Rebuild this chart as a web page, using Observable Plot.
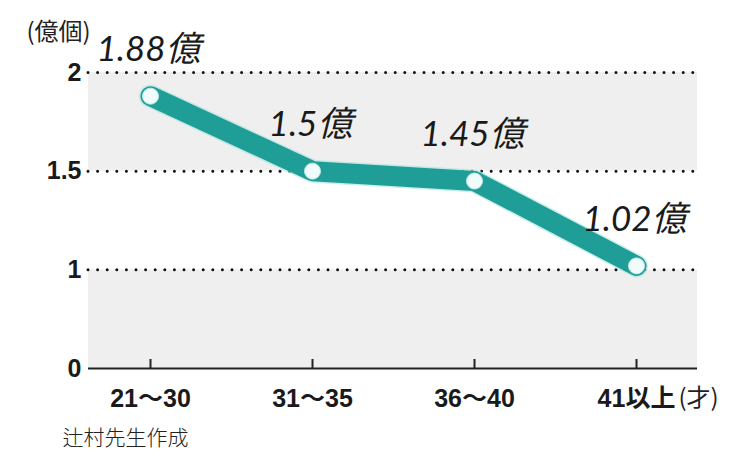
<!DOCTYPE html>
<html>
<head>
<meta charset="utf-8">
<script src="https://cdn.jsdelivr.net/npm/d3@7"></script>
<script src="https://cdn.jsdelivr.net/npm/@observablehq/plot@0.6"></script>
<style>
  html, body { margin: 0; padding: 0; background: #fff; }
</style>
</head>
<body>
<div id="chart"></div>
<script>
const ageGroups = ["21〜30", "31〜35", "36〜40", "41以上"];
const eggCounts = [1.88, 1.5, 1.45, 1.02];
const valueLabels = ["1.88億", "1.5億", "1.45億", "1.02億"];
const yTicks = [0, 1, 1.5, 2];
const yTickLabels = ["0", "1", "1.5", "2"];
const bandLows = [1.5, 0];
const bandHighs = [2, 1];
const yUnit = "(億個)";
const xUnit = "(才)";
const caption = "辻村先生作成";

const data = ageGroups.map((g, i) => ({age: g, value: eggCounts[i], label: valueLabels[i]}));
const bands = bandLows.map((lo, i) => ({lo, hi: bandHighs[i]}));

const boldFont = "'Liberation Sans', Arial, 'Noto Sans CJK JP', sans-serif";
const cjkFont = "'Noto Sans CJK JP', sans-serif";
const teal = "#1f9e98";

// broken axis: 0–1 compressed, 1–2 stretched twice as much
const brokenAxis = (v) => (v <= 1 ? v : 1 + (v - 1) * 2);

const chart = Plot.plot({
  width: 750,
  height: 460,
  marginLeft: 88,
  marginRight: 53,
  marginTop: 72,
  marginBottom: 92,
  style: {background: "#fff", overflow: "visible"},
  x: {type: "point", domain: ageGroups, padding: 0.37, label: null},
  y: {transform: brokenAxis, domain: [0, 3], label: null},
  marks: [
    Plot.rect(bands, {y1: "lo", y2: "hi", fill: "#efefef"}),
    Plot.ruleY(yTicks.filter(d => d > 0), {
      stroke: "#111", strokeWidth: 3, strokeDasharray: "0,9.6", strokeLinecap: "round"
    }),
    Plot.ruleY([0], {stroke: "#222", strokeWidth: 2}),
    Plot.axisY(yTicks, {
      tickFormat: (d) => yTickLabels[yTicks.indexOf(d)],
      tickSize: 0, tickPadding: 7, fontSize: 25, fontWeight: "bold",
      fontFamily: boldFont, fill: "#1a1a1a", label: null
    }),
    Plot.axisX({
      tickSize: -9, tickPadding: 30, fontSize: 25, fontWeight: "bold",
      fontFamily: boldFont, fill: "#1a1a1a", stroke: "#222", strokeWidth: 2, label: null
    }),
    Plot.line(data, {x: "age", y: "value", stroke: "#a6e2de", strokeWidth: 23,
      strokeLinejoin: "round", strokeLinecap: "round", strokeOpacity: 0.6}),
    Plot.line(data, {x: "age", y: "value", stroke: teal, strokeWidth: 20,
      strokeLinejoin: "round", strokeLinecap: "round"}),
    Plot.dot(data, {x: "age", y: "value", r: 8, fill: "#f2fbfb", stroke: "#bfeae7", strokeWidth: 1}),
    Plot.text(data, {x: "age", y: "value", text: "label", dy: -46, dx: -2,
      fontSize: 35, fontStyle: "italic", fontWeight: "normal",
      fontFamily: "Lato, 'Noto Sans CJK JP', sans-serif", fill: "#1a1a1a"}),
    Plot.text([yUnit], {frameAnchor: "top-left", dx: -62, dy: -50, textAnchor: "start",
      fontSize: 24, fontFamily: cjkFont, fill: "#222"}),
    Plot.text([xUnit], {x: () => ageGroups[3], y: () => 0, dx: 42, dy: 30, textAnchor: "start",
      fontSize: 24, fontFamily: cjkFont, fill: "#222"}),
    Plot.text([caption], {frameAnchor: "bottom-left", dx: -26, dy: 76, textAnchor: "start",
      fontSize: 21, fontWeight: 300, fontFamily: cjkFont, fill: "#222"})
  ]
});
document.getElementById("chart").appendChild(chart);
</script>
</body>
</html>
